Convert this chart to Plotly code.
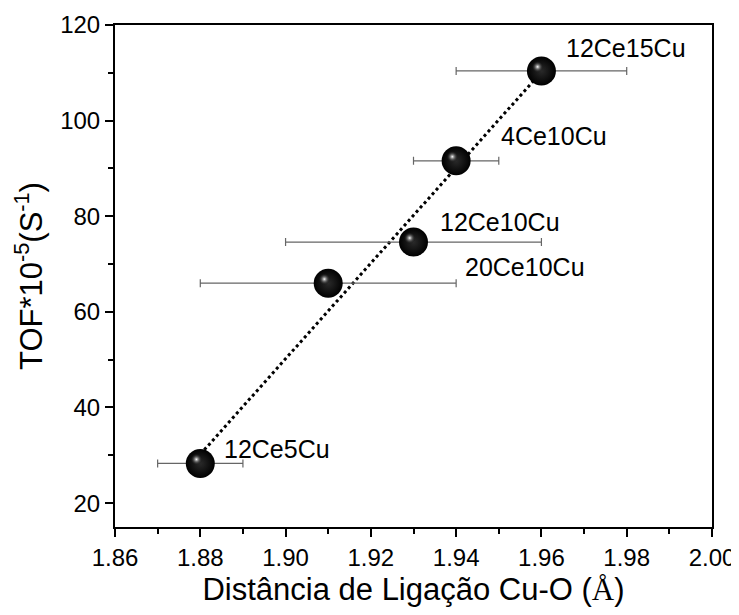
import numpy as np
import plotly.graph_objects as go

# Data
samples = ["12Ce5Cu", "20Ce10Cu", "12Ce10Cu", "4Ce10Cu", "12Ce15Cu"]
distance = [1.88, 1.91, 1.93, 1.94, 1.96]
tof = [28.3, 66.0, 74.6, 91.6, 110.4]
dist_err = [0.01, 0.03, 0.03, 0.01, 0.02]
# label anchor positions (data coords, left edge / vertical middle)
label_x = [1.885, 1.9416, 1.9357, 1.9501, 1.9653]
label_y = [31.3, 69.3, 78.8, 96.7, 115.2]

x_ticks = [1.86, 1.88, 1.90, 1.92, 1.94, 1.96, 1.98, 2.00]
y_ticks = [20, 40, 60, 80, 100, 120]

# linear fit line
coef = np.polyfit(distance, tof, 1)
fit_x = [min(distance), max(distance)]
fit_y = list(np.polyval(coef, fit_x))

FONT = "Liberation Sans, Arial, sans-serif"

fig = go.Figure()

fig.add_trace(go.Scatter(
    x=fit_x, y=fit_y, mode="lines",
    line=dict(color="black", width=3, dash="dot"),
    hoverinfo="skip", showlegend=False))

fig.add_trace(go.Scatter(
    x=distance, y=tof, mode="markers",
    error_x=dict(type="data", array=dist_err, color="#666666", thickness=1.2, width=4),
    marker=dict(size=29, color="black", line=dict(width=0),
                gradient=dict(type="radial", color="#2a2a2a")),
    showlegend=False))

# highlight for sphere look (small offset up-left)
hx = [d - 0.0009 for d in distance]
hy = [t + 0.85 for t in tof]
fig.add_trace(go.Scatter(
    x=hx, y=hy, mode="markers",
    marker=dict(size=12, color="rgba(0,0,0,0)", line=dict(width=0),
                gradient=dict(type="radial", color="white")),
    hoverinfo="skip", showlegend=False))

for s, lx, ly in zip(samples, label_x, label_y):
    fig.add_annotation(x=lx, y=ly, text=s, showarrow=False,
                       xanchor="left", yanchor="middle",
                       font=dict(family=FONT, size=25, color="black"))

axis_common = dict(
    showline=True, linecolor="black", linewidth=2, mirror=True,
    ticks="outside", ticklen=8, tickwidth=1.5, tickcolor="black",
    showgrid=False, zeroline=False, ticklabeloverflow="allow",
    tickfont=dict(family=FONT, size=24, color="black"),
)

fig.update_xaxes(
    range=[1.86, 2.00], tickvals=x_ticks,
    ticktext=[f"{v:.2f}" for v in x_ticks],
    minor=dict(dtick=0.01, tick0=1.86, ticks="outside", ticklen=5, tickwidth=1.5, tickcolor="black"),
    title=dict(text='Distância de Ligação Cu-O (<span style="font-family:Liberation Serif, serif">Å</span>)',
               font=dict(family=FONT, size=31, color="black"), standoff=21),
    **axis_common)

fig.update_yaxes(
    range=[15, 120], tickvals=y_ticks,
    minor=dict(dtick=10, tick0=10, ticks="outside", ticklen=5, tickwidth=1.5, tickcolor="black"),
    title=dict(text="TOF*10<sup>-5</sup>(S<sup>-1</sup>)",
               font=dict(family=FONT, size=31, color="black"), standoff=8),
    **axis_common)

fig.update_layout(
    width=731, height=599,
    margin=dict(l=107, r=27, t=17, b=80, autoexpand=False),
    plot_bgcolor="white", paper_bgcolor="white",
)

fig.write_html("out.html")
